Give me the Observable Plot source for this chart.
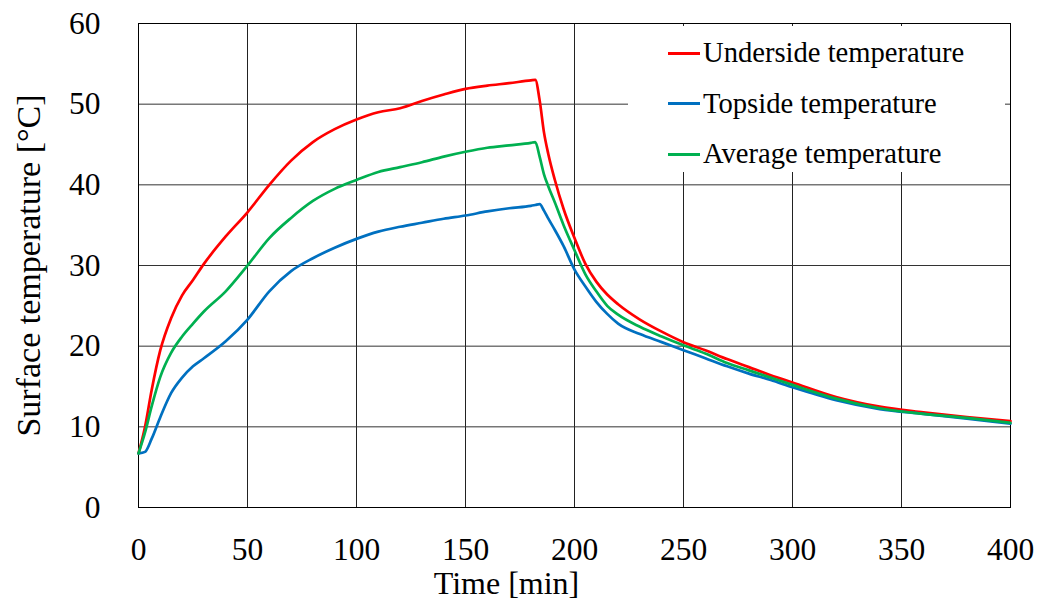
<!DOCTYPE html>
<html>
<head>
<meta charset="utf-8">
<script src="https://cdn.jsdelivr.net/npm/d3@7"></script>
<script src="https://cdn.jsdelivr.net/npm/@observablehq/plot@0.6"></script>
<style>
  html, body { margin: 0; padding: 0; background: #fff; }
  #wrap { position: relative; width: 1040px; height: 612px; }
  #legend { position: absolute; left: 628px; top: 26px; width: 377px; height: 146px; background: #fff;
            font-family: "Liberation Serif", "Times New Roman", serif; font-size: 28.6px; color: #000; }
  .item { position: absolute; left: 40px; display: flex; align-items: center; height: 40px; }
  .swatch { width: 32px; height: 3px; margin-right: 3px; }
</style>
</head>
<body>
<div id="wrap"><div id="legend"></div></div>
<script>
// Time [min]
const times = [0, 3, 6, 10, 15, 20, 25, 30, 40, 50, 60, 70, 80, 90, 100, 110, 120, 130, 140, 150, 160, 170, 180, 182, 184, 186, 188, 191, 195, 200, 205, 210, 215, 220, 230, 240, 250, 260, 270, 280, 290, 300, 320, 340, 360, 380, 400];
// Surface temperature [°C]
const underside = [6.7, 10.0, 14.5, 19.5, 23.5, 26.3, 28.2, 30.2, 33.6, 36.6, 40.0, 43.0, 45.3, 46.9, 48.1, 49.0, 49.5, 50.4, 51.2, 51.9, 52.3, 52.6, 52.95, 53.0, 50.5, 46.5, 43.8, 40.6, 37.0, 33.4, 30.2, 28.0, 26.4, 25.2, 23.3, 21.8, 20.5, 19.5, 18.4, 17.4, 16.4, 15.5, 13.7, 12.5, 11.8, 11.2, 10.7];
const topside   = [6.7, 6.9, 8.5, 11.2, 14.2, 16.1, 17.5, 18.5, 20.6, 23.3, 26.8, 29.3, 30.9, 32.2, 33.3, 34.2, 34.8, 35.3, 35.8, 36.2, 36.7, 37.1, 37.4, 37.5, 37.6, 36.8, 35.8, 34.4, 32.4, 29.5, 27.4, 25.5, 24.0, 22.8, 21.5, 20.5, 19.5, 18.5, 17.5, 16.6, 15.8, 14.9, 13.3, 12.2, 11.6, 11.0, 10.4];
const average   = [6.7, 9.3, 12.5, 16.2, 19.2, 21.2, 22.8, 24.3, 26.8, 30.0, 33.4, 35.9, 38.0, 39.5, 40.6, 41.6, 42.2, 42.8, 43.5, 44.1, 44.6, 44.9, 45.2, 45.3, 43.5, 41.3, 39.8, 37.8, 35.0, 31.9, 28.9, 26.8, 25.0, 23.9, 22.4, 21.2, 20.1, 19.1, 17.9, 17.0, 16.1, 15.2, 13.5, 12.3, 11.6, 11.1, 10.5];

const seriesNames = ["Underside temperature", "Topside temperature", "Average temperature"];
const seriesColors = ["#ff0000", "#0070c0", "#00b050"];
const xTicks = [0, 50, 100, 150, 200, 250, 300, 350, 400];
const yTicks = [0, 10, 20, 30, 40, 50, 60];
const xLabel = "Time [min]";
const yLabel = "Surface temperature [°C]";

const valuesBySeries = [underside, topside, average];
const rows = valuesBySeries.flatMap((vals, k) => times.map((t, i) => ({t, v: vals[i], s: seriesNames[k]})));

const chart = Plot.plot({
  width: 1040,
  height: 612,
  marginLeft: 138,
  marginRight: 30,
  marginTop: 23,
  marginBottom: 105,
  style: {fontFamily: "'Liberation Serif', 'Times New Roman', serif", fontSize: "31.5px", color: "#000", background: "#fff"},
  x: {domain: [0, 400]},
  y: {domain: [0, 60]},
  color: {domain: seriesNames, range: seriesColors},
  marks: [
    Plot.gridX(xTicks, {stroke: "#222", strokeOpacity: 1, strokeWidth: 1}),
    Plot.gridY(yTicks, {stroke: "#333", strokeOpacity: 1, strokeWidth: 1}),
    Plot.frame({stroke: "#000", strokeWidth: 1}),
    Plot.axisX({ticks: xTicks, tickSize: 0, tickPadding: 30, label: null}),
    Plot.axisY({ticks: yTicks, tickSize: 0, tickPadding: 38, label: null}),
    Plot.line(rows, {x: "t", y: "v", z: "s", stroke: "s", strokeWidth: 2.7, curve: "monotone-x"}),
    Plot.text([xLabel], {frameAnchor: "bottom", textAnchor: "middle", dx: -68, dy: 86, fontSize: 32}),
    Plot.text([yLabel], {frameAnchor: "left", textAnchor: "middle", dx: -109, rotate: -90, fontSize: 34})
  ]
});
const wrap = document.getElementById("wrap");
wrap.insertBefore(chart, wrap.firstChild);

const legend = document.getElementById("legend");
seriesNames.forEach((name, i) => {
  const item = document.createElement("div");
  item.className = "item";
  item.style.top = (7 + i * 50.5) + "px";
  const sw = document.createElement("div");
  sw.className = "swatch";
  sw.style.background = seriesColors[i];
  const tx = document.createElement("span");
  tx.textContent = name;
  item.appendChild(sw);
  item.appendChild(tx);
  legend.appendChild(item);
});
</script>
</body>
</html>
